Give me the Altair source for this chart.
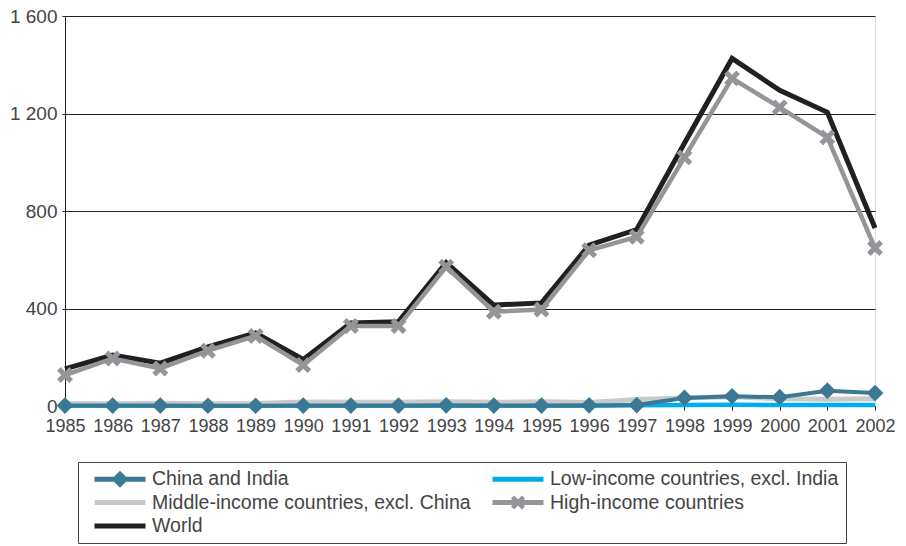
import math
import altair as alt
import pandas as pd

years = list(range(1985, 2003))
china_india = [2, 2, 2, 1, 1, 2, 2, 2, 3, 2, 2, 3, 4, 33, 40, 36, 63, 53]
low_income = [1, 1, 1, 1, 1, 1, 1, 1, 1, 1, 1, 1, 3, 4, 5, 4, 4, 4]
middle_income = [10, 9, 11, 9, 10, 16, 15, 15, 17, 15, 17, 14, 27, 33, 38, 30, 28, 30]
high_income = [127, 195, 154, 227, 287, 168, 328, 328, 571, 387, 396, 639, 694, 1020, 1344, 1225, 1102, 648]
world = [152, 209, 176, 243, 300, 191, 341, 346, 588, 414, 423, 660, 724, 1078, 1426, 1295, 1205, 730]

series_names = [
    "China and India",
    "Low-income countries, excl. India",
    "Middle-income countries, excl. China",
    "High-income countries",
    "World",
]
series_values = [china_india, low_income, middle_income, high_income, world]
series_colors = ["#3b7893", "#00aeef", "#c8c9cb", "#939598", "#231f20"]
y_ticks = [0, 400, 800, 1200, 1600]

rows = []
for name, vals in zip(series_names, series_values):
    for yr, v in zip(years, vals):
        rows.append({"year": yr, "value": v, "series": name})
df = pd.DataFrame(rows)


# ---- symbol paths (style only) ----
def rect(x0, x1, t):
    return f"M{x0},{-t}L{x1},{-t}L{x1},{t}L{x0},{t}Z"


def diamond(d):
    return f"M0,{-d}L{d},0L0,{d}L{-d},0Z"


def xshape(L, w):
    parts = []
    for ux, uy in [(1, 1), (1, -1)]:
        n = math.sqrt(2)
        ux, uy = ux / n, uy / n
        vx, vy = -uy, ux
        pts = [
            (-L * ux - w * vx, -L * uy - w * vy),
            (L * ux - w * vx, L * uy - w * vy),
            (L * ux + w * vx, L * uy + w * vy),
            (-L * ux + w * vx, -L * uy + w * vy),
        ]
        parts.append("M" + "L".join(f"{px:.3f},{py:.3f}" for px, py in pts) + "Z")
    return "".join(parts)


BAR = 2.55
path_by_name = {
    series_names[0]: rect(-BAR, BAR, 0.26) + diamond(0.85),
    series_names[1]: rect(-BAR, BAR, 0.24),
    series_names[2]: rect(-BAR, BAR, 0.24),
    series_names[3]: rect(-BAR, BAR, 0.24) + xshape(0.77, 0.22),
    series_names[4]: rect(-BAR, BAR, 0.24),
}
color_by_name = dict(zip(series_names, series_colors))
# legend fills column by column: col 1 = China, Middle, World; col 2 = Low, High
legend_order = [series_names[0], series_names[2], series_names[4], series_names[1], series_names[3]]
legend_colors = [color_by_name[n] for n in legend_order]
legend_paths = [path_by_name[n] for n in legend_order]
plot_x = xshape(1.0, 0.3)

FONT = "Liberation Sans"
TXT = "#444444"

x_enc = alt.X(
    "year:O",
    scale=alt.Scale(type="point", padding=0),
    axis=alt.Axis(
        title=None, labelAngle=0, labelFontSize=18, labelColor=TXT, labelFont=FONT,
        tickSize=4, tickColor="#222", domainColor="#222", labelPadding=7, grid=False,
    ),
)
y_enc = alt.Y(
    "value:Q",
    scale=alt.Scale(domain=[0, 1600], nice=False),
    axis=alt.Axis(
        title=None, values=y_ticks, labelFontSize=19, labelColor=TXT, labelFont=FONT,
        tickSize=3, tickColor="#222", domainColor="#222", gridColor="#222",
        gridWidth=1, labelPadding=5,
        labelExpr="replace(format(datum.value, ','), ',', ' ')",
    ),
)

legend = alt.Legend(
    title=None, orient="none", legendX=13, legendY=446, columns=2,
    gridAlign="all", columnPadding=12, rowPadding=3.5,
    symbolSize=400, symbolOffset=25, labelOffset=22, symbolStrokeWidth=0,
    symbolOpacity=1, labelFontSize=19.5, labelFont=FONT, labelColor=TXT,
    labelLimit=600, padding=7, strokeColor="#444", fillColor="white",
)

legend_layer = alt.Chart(df).mark_point(filled=True, opacity=0).encode(
    x=x_enc, y=y_enc,
    color=alt.Color("series:N", scale=alt.Scale(domain=legend_order, range=legend_colors), legend=legend),
    shape=alt.Shape("series:N", scale=alt.Scale(domain=legend_order, range=legend_paths), legend=legend),
)


def line(name, width):
    return alt.Chart(df).transform_filter(alt.datum.series == name).mark_line(
        color=color_by_name[name], strokeWidth=width
    ).encode(x=x_enc, y=y_enc)


layers = [
    legend_layer,
    line(series_names[1], 4.5),
    line(series_names[2], 5),
    line(series_names[0], 4),
    alt.Chart(df).transform_filter(alt.datum.series == series_names[0]).mark_point(
        shape="diamond", filled=True, size=280, color=series_colors[0], opacity=1
    ).encode(x=x_enc, y=y_enc),
    line(series_names[4], 5),
    line(series_names[3], 4.5),
    alt.Chart(df).transform_filter(alt.datum.series == series_names[3]).mark_point(
        shape=plot_x, filled=True, size=300, color=series_colors[3], opacity=1
    ).encode(x=x_enc, y=y_enc),
]

chart = alt.layer(*layers).properties(
    width=810, height=390,
    autosize=alt.AutoSizeParams(type="none"),
    padding={"left": 57, "top": 8, "right": 23, "bottom": 140},
).configure_view(stroke="#222", strokeWidth=1).configure(background="white")

chart.save("out.html", embed_options={"renderer": "svg", "actions": False})
